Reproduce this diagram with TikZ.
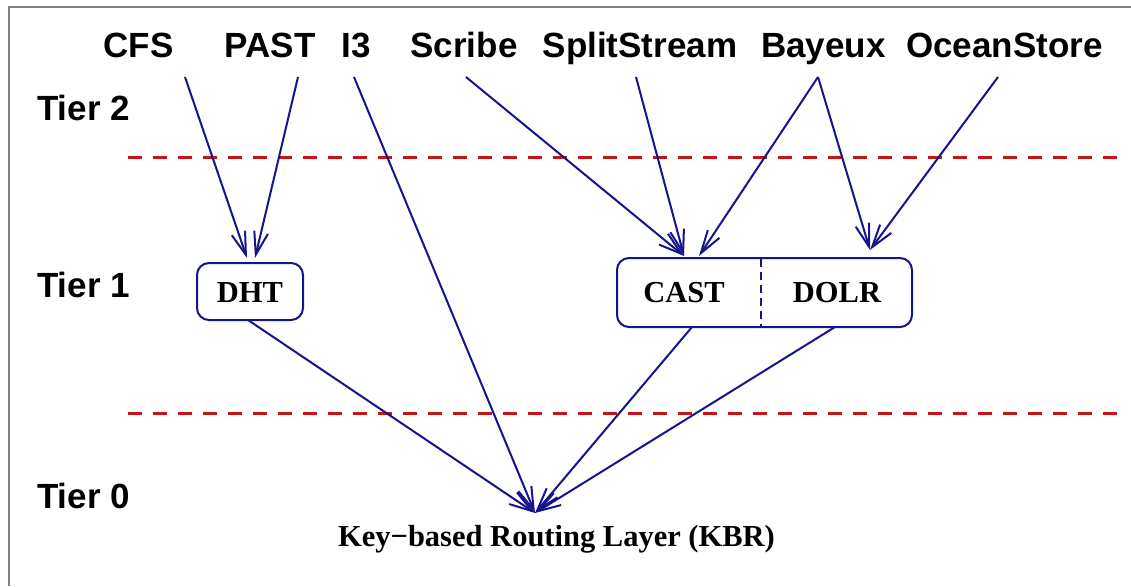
\documentclass[tikz,border=0pt]{standalone}
\usepackage{fontspec}
\setmainfont{Liberation Serif}
\setsansfont{Liberation Sans}
\usetikzlibrary{arrows.meta}
\definecolor{navy}{RGB}{20,20,140}
\definecolor{dred}{RGB}{200,20,20}
\definecolor{frame}{RGB}{128,128,128}
\tikzset{
  toplabel/.style={font=\sffamily\bfseries\fontsize{35}{40}\selectfont, anchor=base, inner sep=0pt},
  tierlabel/.style={font=\sffamily\bfseries\fontsize{35}{40}\selectfont, anchor=base west, inner sep=0pt},
  boxlabel/.style={font=\rmfamily\bfseries\fontsize{30.5}{34}\selectfont, anchor=base, inner sep=0pt},
  tierline/.style={draw=dred, line width=3pt, dash pattern=on 14pt off 11pt},
  conn/.style={draw=navy, line width=2pt, -{Straight Barb[length=23pt,width=14pt,line width=2pt]}},
  boxframe/.style={draw=navy, line width=2pt, rounded corners=12pt},
}
\begin{document}
\begin{tikzpicture}[x=1pt,y=-1pt]
\useasboundingbox (0,0) rectangle (1131,586);
\fill[white] (0,0) rectangle (1131,586);
\draw[frame, line width=2pt] (9,586) -- (9,7) -- (1131,7);

% top labels
\node[toplabel] (cfs) at (138.5,57) {CFS};
\node[toplabel] (past) at (270,57) {PAST};
\node[toplabel] (i3) at (356.5,57) {I3};
\node[toplabel] (scribe) at (464,57) {Scribe};
\node[toplabel] (split) at (640,57) {SplitStream};
\node[toplabel] (bayeux) at (823.5,57) {Bayeux};
\node[toplabel] (ocean) at (1004.5,57) {OceanStore};

% tier labels
\node[tierlabel] (t2) at (37,120) {Tier 2};
\node[tierlabel] (t1) at (37,297) {Tier 1};
\node[tierlabel] (t0) at (37,508) {Tier 0};

% tier separators
\draw[tierline] (128,157) -- (1120,157);
\draw[tierline] (128,413) -- (1120,413);

% boxes
\draw[boxframe] (197,263) rectangle (303,320);
\node[boxlabel] (dht) at (250,302) {DHT};
\draw[boxframe] (617,258) rectangle (912,327);
\draw[navy, line width=2pt, dash pattern=on 8pt off 5pt] (761,259) -- (761,326);
\node[boxlabel] (cast) at (684,302) {CAST};
\node[boxlabel] (dolr) at (837,302) {DOLR};

\node[boxlabel] (kbr) at (556.5,546) {Key−based Routing Layer (KBR)};

% connector endpoints
\coordinate (cfsS) at (185,77);
\coordinate (pastS) at (298,77);
\coordinate (i3S) at (354,77);
\coordinate (scribeS) at (466,77);
\coordinate (splitS) at (636,77);
\coordinate (bayS) at (818,77);
\coordinate (oceanS) at (998,77);
\coordinate (dhtT1) at (247,258);
\coordinate (dhtT2) at (255,258);
\coordinate (castT) at (684,256);
\coordinate (castT2) at (699,256);
\coordinate (dolrT) at (870,250);
\coordinate (kbrT) at (535,513);
\coordinate (dhtB) at (248,320);
\coordinate (castB) at (692,327);
\coordinate (dolrB) at (835,327);

\draw[conn] (cfsS) -- (dhtT1);
\draw[conn] (pastS) -- (dhtT2);
\draw[conn] (i3S) -- (kbrT);
\draw[conn] (scribeS) -- (castT);
\draw[conn] (splitS) -- (castT);
\draw[conn] (bayS) -- (castT2);
\draw[conn] (bayS) -- (dolrT);
\draw[conn] (oceanS) -- (dolrT);
\draw[conn] (dhtB) -- (kbrT);
\draw[conn] (castB) -- (kbrT);
\draw[conn] (dolrB) -- (kbrT);
\end{tikzpicture}
\end{document}
